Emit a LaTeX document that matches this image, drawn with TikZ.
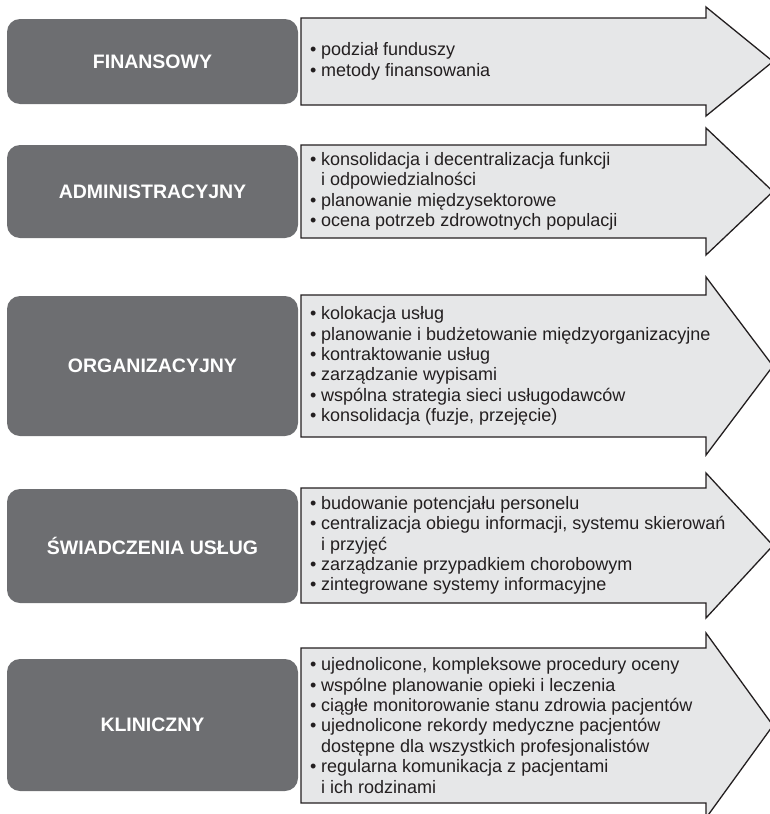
\documentclass[tikz,border=0pt]{standalone}
\usepackage{fontspec}
\setmainfont{Liberation Sans}
\definecolor{boxgray}{HTML}{6D6E71}
\definecolor{arrowfill}{HTML}{E6E7E8}
\definecolor{inkline}{HTML}{231F20}
\newcommand{\bl}{\makebox[11pt][l]{•}}
\newcommand{\ct}{\hspace*{11pt}}
\tikzset{
  catbox/.style={draw=none, fill=boxgray, rounded corners=13pt, minimum width=291pt, inner sep=0pt,
    text=white, font=\fontsize{19.5}{23}\selectfont\bfseries},
  arrowshape/.style={draw=inkline, fill=arrowfill, line width=1.3pt, line join=miter},
  itemtext/.style={anchor=west, align=left, inner sep=0pt, text=inkline,
    font=\fontsize{18}{20.4}\selectfont}
}
\begin{document}
\begin{tikzpicture}[x=1pt, y=-1pt]
\useasboundingbox (0,0) rectangle (770,814);
\clip (0,0) rectangle (770,814);
% row 1
\node[catbox, minimum height=85pt] (b1) at (152.5,61.5) {FINANSOWY};
\draw[arrowshape] (301,18) -- (706,18) -- (706,7) -- (773,61.5) -- (706,116) -- (706,105) -- (301,105) -- cycle;
\node[itemtext] (t1) at (310,61.5) {\bl podział funduszy\\ \bl metody finansowania};
% row 2
\node[catbox, minimum height=93pt] (b2) at (152.5,191.5) {ADMINISTRACYJNY};
\draw[arrowshape] (301,145) -- (706,145) -- (706,128) -- (773,191.5) -- (706,255) -- (706,238) -- (301,238) -- cycle;
\node[itemtext] (t2) at (310,191.5) {\bl konsolidacja i decentralizacja funkcji\\ \ct i odpowiedzialności\\ \bl planowanie międzysektorowe\\ \bl ocena potrzeb zdrowotnych populacji};
% row 3
\node[catbox, minimum height=140pt] (b3) at (152.5,366) {ORGANIZACYJNY};
\draw[arrowshape] (301,295) -- (706,295) -- (706,277) -- (773,366) -- (706,455) -- (706,437) -- (301,437) -- cycle;
\node[itemtext] (t3) at (310,366) {\bl kolokacja usług\\ \bl planowanie i budżetowanie międzyorganizacyjne\\ \bl kontraktowanie usług\\ \bl zarządzanie wypisami\\ \bl wspólna strategia sieci usługodawców\\ \bl konsolidacja (fuzje, przejęcie)};
% row 4
\node[catbox, minimum height=114pt] (b4) at (152.5,546) {ŚWIADCZENIA USŁUG};
\draw[arrowshape] (301,488) -- (706,488) -- (706,473) -- (773,545.5) -- (706,618) -- (706,603) -- (301,603) -- cycle;
\node[itemtext] (t4) at (310,545.5) {\bl budowanie potencjału personelu\\ \bl centralizacja obiegu informacji, systemu skierowań\\ \ct i przyjęć\\ \bl zarządzanie przypadkiem chorobowym\\ \bl zintegrowane systemy informacyjne};
% row 5
\node[catbox, minimum height=132pt] (b5) at (152.5,725) {KLINICZNY};
\draw[arrowshape] (301,648) -- (706,648) -- (706,633) -- (773,725.5) -- (706,818) -- (706,803) -- (301,803) -- cycle;
\node[itemtext] (t5) at (310,725.5) {\bl ujednolicone, kompleksowe procedury oceny\\ \bl wspólne planowanie opieki i leczenia\\ \bl ciągłe monitorowanie stanu zdrowia pacjentów\\ \bl ujednolicone rekordy medyczne pacjentów\\ \ct dostępne dla wszystkich profesjonalistów\\ \bl regularna komunikacja z pacjentami\\ \ct i ich rodzinami};
\end{tikzpicture}
\end{document}
